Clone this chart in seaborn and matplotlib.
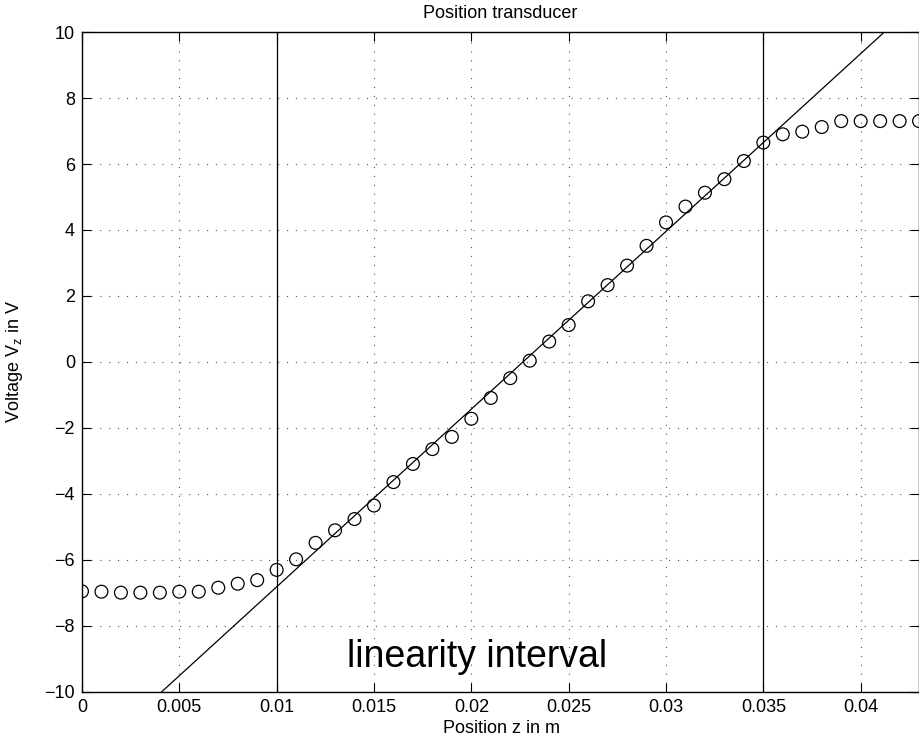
import numpy as np
import pandas as pd
import matplotlib
matplotlib.use("Agg")
import matplotlib.pyplot as plt
import seaborn as sns

position_m = [0.000, 0.001, 0.002, 0.003, 0.004, 0.005, 0.006, 0.007, 0.008, 0.009,
              0.010, 0.011, 0.012, 0.013, 0.014, 0.015, 0.016, 0.017, 0.018, 0.019,
              0.020, 0.021, 0.022, 0.023, 0.024, 0.025, 0.026, 0.027, 0.028, 0.029,
              0.030, 0.031, 0.032, 0.033, 0.034, 0.035, 0.036, 0.037, 0.038, 0.039,
              0.040, 0.041, 0.042, 0.043]
voltage_v = [-6.95, -6.96, -6.99, -6.99, -6.99, -6.96, -6.96, -6.84, -6.72, -6.61,
             -6.30, -5.98, -5.48, -5.10, -4.76, -4.35, -3.64, -3.09, -2.64, -2.27,
             -1.72, -1.09, -0.49, 0.04, 0.62, 1.12, 1.84, 2.33, 2.92, 3.52,
             4.23, 4.71, 5.13, 5.54, 6.09, 6.65, 6.90, 6.98, 7.12, 7.30,
             7.30, 7.30, 7.30, 7.30]

# linear fit through the linearity interval
fit_slope = 538.6      # V/m
fit_offset = -12.20    # V
interval_bounds = [0.010, 0.035]

x_ticks = [0, 0.005, 0.01, 0.015, 0.02, 0.025, 0.03, 0.035, 0.04]
x_tick_labels = ["0", "0.005", "0.01", "0.015", "0.02", "0.025", "0.03", "0.035", "0.04"]
y_ticks = [-10, -8, -6, -4, -2, 0, 2, 4, 6, 8, 10]
y_tick_labels = ["\u221210", "\u22128", "\u22126", "\u22124", "\u22122", "0", "2", "4", "6", "8", "10"]

sns.set_style("ticks")
plt.rcParams['font.family'] = ['Liberation Sans', 'DejaVu Sans']
plt.rcParams['mathtext.fontset'] = 'custom'
plt.rcParams['mathtext.it'] = 'Liberation Sans:italic'
plt.rcParams['mathtext.rm'] = 'Liberation Sans'
plt.rcParams['text.color'] = 'black'
plt.rcParams['axes.labelcolor'] = 'black'

df = pd.DataFrame({"z": position_m, "V": voltage_v})
fit_x = np.array([0.0, 0.043])
fit_df = pd.DataFrame({"z": fit_x, "V": fit_slope * fit_x + fit_offset})

fig = plt.figure(figsize=(9.2, 7.46), dpi=100)
ax = fig.add_axes([0.0891, 0.0724, 0.9099, 0.8847])

ax.grid(True, color='#555555', linestyle=(0, (1, 7)), linewidth=0.8)
ax.set_axisbelow(True)

sns.lineplot(data=fit_df, x="z", y="V", color='black', linewidth=0.9, ax=ax)
for xb in interval_bounds:
    ax.axvline(xb, color='black', linewidth=0.9)
sns.scatterplot(data=df, x="z", y="V", marker='o', s=85, facecolor='none',
                edgecolor='black', linewidth=0.9, ax=ax, zorder=5)

ax.set_xlim(0, 0.043)
ax.set_ylim(-10, 10)
ax.set_xticks(x_ticks)
ax.set_xticklabels(x_tick_labels)
ax.set_yticks(y_ticks)
ax.set_yticklabels(y_tick_labels)
ax.tick_params(direction='in', top=True, right=True, length=6.5, width=0.8,
               labelsize=13, colors='black', pad=5)
for sp in ax.spines.values():
    sp.set_linewidth(1.0)
    sp.set_color('black')

ax.set_xlabel("Position $\\mathrm{z}$ in m", fontsize=13)
ax.set_ylabel("Voltage $\\mathrm{V_z}$ in V", fontsize=13)
ax.xaxis.set_label_coords(0.5, -0.043, transform=ax.transAxes)
ax.yaxis.set_label_coords(-0.068, 0.5, transform=ax.transAxes)
ax.set_title("Position transducer", fontsize=13, pad=10)

ax.text(0.0203, -8.95, "linearity interval", fontsize=27, ha='center', va='center',
        color='black')

fig.savefig("out.png", dpi=100)
